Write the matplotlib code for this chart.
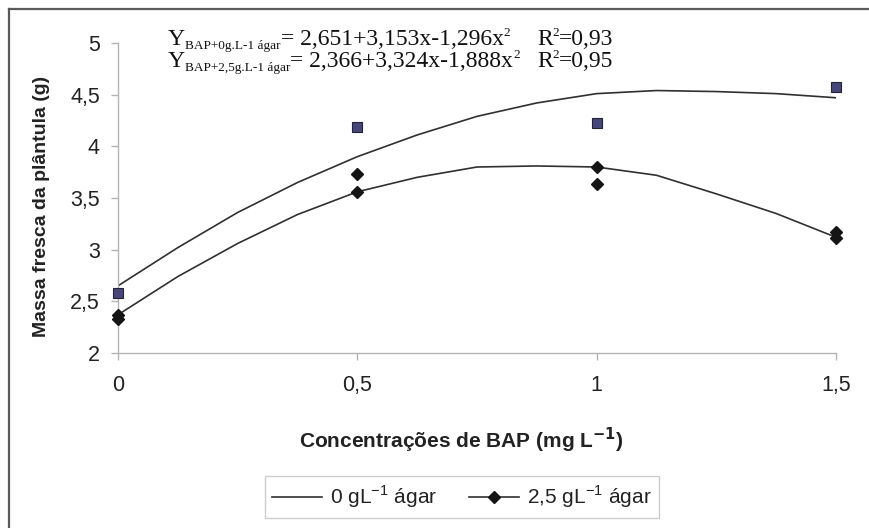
import matplotlib
matplotlib.use("Agg")
import matplotlib.pyplot as plt
from matplotlib.lines import Line2D

# measured points (mg/L BAP vs fresh mass, g)
bap = [0, 0.5, 1, 1.5]
agar0 = [2.58, 4.19, 4.23, 4.57]
agar25_a = [2.37, 3.73, 3.80, 3.17]
agar25_b = [2.33, 3.56, 3.64, 3.11]

# trend lines
trend_x = [0, 0.125, 0.25, 0.375, 0.5, 0.625, 0.75, 0.875, 1.0, 1.125, 1.25, 1.375, 1.5]
trend0 = [2.65, 3.02, 3.36, 3.65, 3.90, 4.11, 4.29, 4.42, 4.51, 4.54, 4.53, 4.51, 4.47]
trend25 = [2.37, 2.74, 3.06, 3.34, 3.56, 3.70, 3.80, 3.81, 3.80, 3.72, 3.54, 3.35, 3.12]

xticks = [0, 0.5, 1, 1.5]
xticklabels = ["0", "0,5", "1", "1,5"]
yticks = [2, 2.5, 3, 3.5, 4, 4.5, 5]
yticklabels = ["2", "2,5", "3", "3,5", "4", "4,5", "5"]

SANS = "Liberation Sans"
SERIF = "Liberation Serif"
plt.rcParams["font.family"] = [SANS, "DejaVu Sans"]
plt.rcParams["mathtext.fontset"] = "custom"
plt.rcParams["mathtext.rm"] = SANS

W, H = 870, 528
fig = plt.figure(figsize=(W / 100, H / 100), dpi=100)
ax = fig.add_axes([118 / W, 175 / H, 718 / W, 310 / H])

line_col = "#303030"
ax.plot(trend_x, trend0, color=line_col, lw=1.2, zorder=2)
ax.plot(trend_x, trend25, color=line_col, lw=1.2, zorder=2)
ax.plot(bap, agar0, ls="none", marker="s", ms=7.5, mfc="#46467a", mec="#222233",
        mew=0.8, clip_on=False, zorder=3)
ax.plot(bap, agar25_a, ls="none", marker="D", ms=6, color="#151515", clip_on=False, zorder=3)
ax.plot(bap, agar25_b, ls="none", marker="D", ms=6, color="#151515", clip_on=False, zorder=3)

ax.set_xlim(0, 1.5)
ax.set_ylim(2, 5)
ax.set_xticks(xticks)
ax.set_xticklabels(xticklabels)
ax.set_yticks(yticks)
ax.set_yticklabels(yticklabels)
for s in ["top", "right"]:
    ax.spines[s].set_visible(False)
for s in ["left", "bottom"]:
    ax.spines[s].set_color("#b4b4b4")
    ax.spines[s].set_linewidth(1.0)
ax.tick_params(axis="both", direction="out", length=5, width=1.0, color="#b4b4b4",
               labelsize=15.5, labelcolor="#222222")
ax.tick_params(axis="y", pad=8)
ax.tick_params(axis="x", pad=11)

fig.text(461 / W, 1 - 440 / H, r"Concentrações de BAP (mg L$^{\mathbf{-1}}$)",
         ha="center", va="center", fontsize=15, fontweight="bold", color="#222222")
fig.text(42 / W, 1 - 206 / H, "Massa fresca da plântula (g)", rotation=90,
         ha="center", va="center", fontsize=14, fontweight="bold", color="#222222")


# regression equations: chain pieces so sub/superscripts follow the text
def piece(prev, s, size, dy=0.0):
    return ax.annotate(s, xy=(1, 0), xycoords=prev, xytext=(0, dy),
                       textcoords="offset points", fontsize=size, family=SERIF,
                       ha="left", va="bottom", color="#111111")


eqs = [("BAP+0g.L-1 ágar", "= 2,651+3,153x-1,296x", "=0,93"),
       ("BAP+2,5g.L-1 ágar", "= 2,366+3,324x-1,888x", "=0,95")]
for i, (sub, body, r2) in enumerate(eqs):
    yb = 1 - (45 + 22 * i) / H
    t = fig.text(168 / W, yb, "Y", fontsize=17, family=SERIF, va="baseline", color="#111111")
    t = piece(t, sub, 9.5, -1.5)
    t = piece(t, body, 17, 1.5)
    piece(t, "2", 9.5, 8)
    t = fig.text(537 / W, yb, "R", fontsize=17, family=SERIF, va="baseline", color="#111111")
    t = piece(t, "2", 9.5, 8)
    piece(t, r2, 17, -8)

handles = [Line2D([], [], color=line_col, lw=1.2),
           Line2D([], [], color=line_col, lw=1.2, marker="D", ms=6, mfc="#151515", mec="#151515")]
labels = [r"0 gL$^{\mathregular{-1}}$ ágar", r"2,5 gL$^{\mathregular{-1}}$ ágar"]
leg = fig.legend(handles, labels, loc="center", bbox_to_anchor=(462 / W, 1 - 497 / H),
                 ncol=2, fontsize=15, frameon=True, fancybox=False, handlelength=2.4,
                 columnspacing=1.5, handletextpad=0.4, borderpad=0.35)
leg.get_frame().set_edgecolor("#c0c0c0")
leg.get_frame().set_linewidth(1.0)
for txt in leg.get_texts():
    txt.set_color("#222222")

# outer chart border (only top and left visible in the crop)
fig.add_artist(Line2D([9 / W, 9 / W], [0, 1 - 9 / H], color="#5a5a5a", lw=1.6))
fig.add_artist(Line2D([9 / W, 1], [1 - 9 / H, 1 - 9 / H], color="#5a5a5a", lw=1.6))

fig.savefig("out.png", dpi=100)
